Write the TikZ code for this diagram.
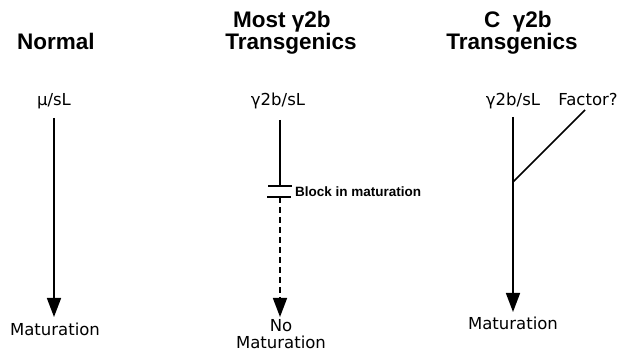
\documentclass[tikz,border=0pt]{standalone}
\usepackage{fontspec}
\setmainfont{Liberation Sans}
\newfontfamily\labfont{DejaVu Sans}
\usetikzlibrary{arrows.meta,calc}
\begin{document}
\begin{tikzpicture}[x=1pt,y=-1pt,
  title/.style={font=\fontsize{22.5}{26}\selectfont\bfseries, inner sep=0, anchor=base},
  lbl/.style={font=\labfont\fontsize{16.5}{19}\selectfont, inner sep=0, anchor=base},
  blk/.style={font=\fontsize{13.5}{16}\selectfont\bfseries, inner sep=0, anchor=west},
  conn/.style={line width=1.6pt},
  arr/.style={conn, -{Triangle[width=14pt,length=19pt]}},
  dashline/.style={arr, dash pattern=on 6pt off 4pt}]
\useasboundingbox (0,0) rectangle (627,355);
% titles
\node[title] (t1) at (56,50) {Normal};
\node[title] (t2a) at (282,28) {Most γ2b};
\node[title] (t2b) at (291,50) {Transgenics};
\node[title] (t3a) at (518,28) {C\ \ γ2b};
\node[title] (t3b) at (512,50) {Transgenics};
% labels
\node[lbl] (l1) at (54,106) {μ/sL};
\node[lbl] (l2) at (278,106) {γ2b/sL};
\node[lbl] (l3) at (513,106) {γ2b/sL};
\node[lbl] (f3) at (588,106) {Factor?};
\node[lbl] (m1) at (55,336) {Maturation};
\node[lbl] (n2) at (281,332) {No};
\node[lbl] (m2) at (281,349) {Maturation};
\node[lbl] (m3) at (513,330) {Maturation};
\node[blk] (b2) at (295,192) {Block in maturation};
% coordinates
\coordinate (s1) at (54,118);
\coordinate (e1) at (54,317);
\coordinate (s2) at (280,120);
\coordinate (u2) at (280,186);
\coordinate (d2) at (280,197);
\coordinate (e2) at (280,317);
\coordinate (s3) at (513,117);
\coordinate (j3) at (513,182);
\coordinate (e3) at (513,312);
\coordinate (fs) at (585,110);
% connectors
\draw[arr] (s1) -- (e1);
\draw[conn] (s2) -- (u2);
\draw[conn] ($(u2)+(-12,0)$) -- ($(u2)+(12,0)$);
\draw[conn] ($(d2)+(-13,0)$) -- ($(d2)+(11,0)$);
\draw[dashline] (d2) -- (e2);
\draw[arr] (s3) -- (e3);
\draw[conn] (fs) -- (j3);
\end{tikzpicture}
\end{document}
